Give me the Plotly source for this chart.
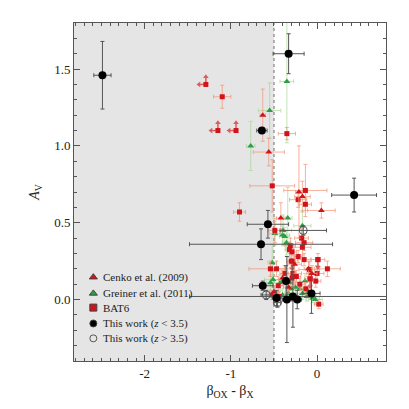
import plotly.graph_objects as go

# Cenko et al. (2009) - red triangles
cenko_x = [-0.63, -0.56, -0.21, -0.17, 0.05, -0.42, -0.40, -0.10, -0.06, -0.26, -0.50, -0.33]
cenko_y = [1.20, 0.96, 0.70, 0.67, 0.58, 0.53, 0.14, 0.20, 0.17, 0.23, 0.05, 0.08]
cenko_xerr = [0.03, 0.18, 0.04, 0.09, 0.16, 0.05, 0.05, 0.05, 0.06, 0.08, 0.05, 0.06]
cenko_yerr = [0.17, 0.09, 0.30, 0.10, 0.05, 0.10, 0.05, 0.05, 0.05, 0.06, 0.04, 0.04]

# Greiner et al. (2011) - green triangles
greiner_x = [-0.77, -0.55, -0.35, -0.34, -0.17, -0.49, -0.395, -0.40, -0.375, -0.355,
             -0.52, -0.51, -0.43, -0.31, -0.54, -0.30, -0.25, -0.20, -0.17, -0.12,
             -0.05, -0.02, -0.48, -0.40, -0.33, -0.10, -0.14]
greiner_y = [1.00, 1.23, 1.42, 0.53, 0.48, 0.43, 0.45, 0.42, 0.41, 0.37,
             0.24, 0.13, 0.11, 0.11, 0.11, 0.07, 0.08, 0.07, 0.04, 0.02,
             0.01, 0.00, 0.04, 0.03, 0.04, 0.05, 0.12]
greiner_xerr = [0.05, 0.13, 0.08, 0.05, 0.10, 0.06, 0.10, 0.08, 0.06, 0.05,
                0.05, 0.10, 0.12, 0.06, 0.05, 0.05, 0.05, 0.06, 0.06, 0.05,
                0.08, 0.08, 0.05, 0.05, 0.05, 0.05, 0.05]
greiner_yerr = [0.16, 0.18, 0.40, 0.20, 0.10, 0.08, 0.10, 0.06, 0.06, 0.08,
                0.12, 0.05, 0.05, 0.05, 0.05, 0.04, 0.04, 0.04, 0.04, 0.03,
                0.03, 0.03, 0.04, 0.04, 0.03, 0.03, 0.05]

# BAT6 - red squares
bat6_x = [-1.10, -0.35, -0.52, -0.135, -0.22, -0.135, -0.90, -0.49, -0.18, -0.15,
          -0.31, -0.17, -0.32, -0.29, -0.22, -0.15, 0.01, -0.54, 0.12, -0.47,
          -0.38, -0.28, -0.09, 0.00, -0.29, -0.24, -0.08, -0.015, -0.45, -0.20,
          -0.52, -0.44, -0.13, -0.30, 0.02]
bat6_y = [1.32, 1.08, 0.74, 0.71, 0.65, 0.62, 0.57, 0.45, 0.40, 0.37,
          0.35, 0.34, 0.325, 0.31, 0.28, 0.26, 0.26, 0.20, 0.20, 0.20,
          0.17, 0.17, 0.195, 0.17, 0.14, 0.15, 0.135, 0.12, 0.09, 0.10,
          0.03, 0.02, 0.07, 0.25, -0.03]
bat6_xerr = [0.10, 0.10, 0.26, 0.25, 0.10, 0.07, 0.07, 0.08, 0.08, 0.10,
             0.06, 0.10, 0.05, 0.05, 0.05, 0.08, 0.08, 0.25, 0.15, 0.10,
             0.05, 0.10, 0.12, 0.08, 0.05, 0.05, 0.06, 0.06, 0.06, 0.06,
             0.05, 0.06, 0.06, 0.05, 0.05]
bat6_yerr = [0.075, 0.04, 0.17, 0.17, 0.05, 0.04, 0.06, 0.08, 0.06, 0.05,
             0.05, 0.05, 0.05, 0.05, 0.04, 0.04, 0.04, 0.05, 0.05, 0.05,
             0.05, 0.05, 0.05, 0.05, 0.04, 0.04, 0.04, 0.04, 0.04, 0.04,
             0.03, 0.03, 0.04, 0.04, 0.03]

# BAT6 limits (arrows left and up)
lim_x = [-1.29, -1.15, -0.94]
lim_y = [1.40, 1.10, 1.10]
# BAT6 upper limits (arrow down)
ul_x = [0.01, -0.08, -0.29]
ul_y = [0.26, 0.135, 0.25]

# This work z < 3.5
low_x = [-2.49, -0.33, -0.64, 0.43, -0.57, -0.65, -0.63, -0.36, -0.47, -0.35, -0.28, -0.23, -0.065]
low_y = [1.46, 1.60, 1.10, 0.68, 0.49, 0.36, 0.09, 0.12, 0.01, 0.00, 0.02, 0.00, 0.04]
low_xerr = [0.10, 0.18, 0.06, 0.26, 0.24, 0.83, 0.12, 0.05, 0.05, 0.05, 1.20, 0.05, 0.10]
low_yerr = [0.22, 0.13, 0.00, 0.11, 0.09, 0.10, 0.03, 0.10, 0.05, 0.28, 0.20, 0.06, 0.13]

# This work z > 3.5
high_x = [-0.16, -0.59, -0.46]
high_y = [0.45, 0.03, -0.02]
high_xerr = [0.27, 0.06, 0.04]
high_yerr = [0.03, 0.03, 0.03]

RED = '#d0141c'
RED_ERR = 'rgba(243,150,120,0.75)'
GREEN = '#2c9e48'
GREEN_ERR = 'rgba(170,215,150,0.7)'
BLACK_ERR = '#555555'
FONT = '"Liberation Serif", "Times New Roman", "DejaVu Serif", serif'

fig = go.Figure()

# grey region + dotted boundary
fig.add_shape(type='rect', xref='x', yref='paper', x0=-3, x1=-0.5, y0=0, y1=1,
              fillcolor='#e5e5e5', line_width=0, layer='below')
fig.add_shape(type='line', xref='x', yref='paper', x0=-0.5, x1=-0.5, y0=0, y1=1,
              line=dict(color='#9a9a9a', width=1.5, dash='dot'), layer='below')


def err(arr, color):
    return dict(type='data', array=arr, color=color, thickness=1, width=2)


fig.add_trace(go.Scatter(
    x=greiner_x, y=greiner_y, mode='markers',
    error_x=err(greiner_xerr, GREEN_ERR), error_y=err(greiner_yerr, GREEN_ERR),
    marker=dict(symbol='triangle-up', size=6, color=GREEN)))

fig.add_trace(go.Scatter(
    x=bat6_x, y=bat6_y, mode='markers',
    error_x=err(bat6_xerr, RED_ERR), error_y=err(bat6_yerr, RED_ERR),
    marker=dict(symbol='square', size=5, color=RED)))

fig.add_trace(go.Scatter(
    x=cenko_x, y=cenko_y, mode='markers',
    error_x=err(cenko_xerr, RED_ERR), error_y=err(cenko_yerr, RED_ERR),
    marker=dict(symbol='triangle-up', size=6, color=RED)))

# limit arrows
fig.add_trace(go.Scatter(
    x=lim_x, y=lim_y, mode='markers',
    error_x=dict(type='data', symmetric=False, array=[0] * 3, arrayminus=[0.08] * 3,
                 color='#e05a5a', thickness=1.5, width=0),
    error_y=dict(type='data', symmetric=False, array=[0.05] * 3, arrayminus=[0] * 3,
                 color='#e05a5a', thickness=1.5, width=0),
    marker=dict(symbol='square', size=5, color=RED)))
fig.add_trace(go.Scatter(
    x=[v - 0.08 for v in lim_x], y=lim_y, mode='markers',
    marker=dict(symbol='triangle-left', size=5, color='#e05a5a')))
fig.add_trace(go.Scatter(
    x=lim_x, y=[v + 0.05 for v in lim_y], mode='markers',
    marker=dict(symbol='triangle-up', size=5, color='#e05a5a')))
fig.add_trace(go.Scatter(
    x=ul_x, y=ul_y, mode='markers',
    error_y=dict(type='data', symmetric=False, array=[0] * 3, arrayminus=[0.05] * 3,
                 color='#e05a5a', thickness=1.5, width=0),
    marker=dict(symbol='square', size=5, color=RED)))
fig.add_trace(go.Scatter(
    x=ul_x, y=[v - 0.05 for v in ul_y], mode='markers',
    marker=dict(symbol='triangle-down', size=5, color='#e05a5a')))

fig.add_trace(go.Scatter(
    x=high_x, y=high_y, mode='markers',
    error_x=err(high_xerr, BLACK_ERR), error_y=err(high_yerr, BLACK_ERR),
    marker=dict(symbol='circle-open', size=8, color='#555555', line=dict(width=1))))

fig.add_trace(go.Scatter(
    x=low_x, y=low_y, mode='markers',
    error_x=err(low_xerr, BLACK_ERR), error_y=err(low_yerr, BLACK_ERR),
    marker=dict(symbol='circle', size=8, color='black')))

# hand-drawn legend on a hidden [0,1] overlay axis
leg_labels = ['Cenko et al. (2009)', 'Greiner et al. (2011)', 'BAT6',
              'This work (<i>z</i> < 3.5)', 'This work (<i>z</i> > 3.5)']
leg_y = [0.248, 0.200, 0.158, 0.111, 0.067]
leg_symbols = ['triangle-up', 'triangle-up', 'square', 'circle', 'circle-open']
leg_colors = [RED, GREEN, RED, 'black', '#555555']
leg_sizes = [7, 7, 7, 7, 7]
for s, c, sz, yy in zip(leg_symbols, leg_colors, leg_sizes, leg_y):
    fig.add_trace(go.Scatter(x=[0.062], y=[yy], xaxis='x2', yaxis='y2', mode='markers',
                             marker=dict(symbol=s, size=sz, color=c, line=dict(width=1))))
for t, yy in zip(leg_labels, leg_y):
    fig.add_annotation(x=0.087, y=yy, xref='paper', yref='paper', text=t,
                       showarrow=False, xanchor='left', yanchor='middle',
                       font=dict(family=FONT, size=11, color='#222'))

axis_common = dict(showline=True, mirror='allticks', linecolor='#555', linewidth=1,
                   ticks='inside', ticklen=6, tickcolor='#555', showgrid=False, zeroline=False,
                   tickfont=dict(family=FONT, size=13, color='#222'))

# page body has an 8px margin, so the figure is 401px and offset accordingly
fig.update_layout(
    width=401, height=401,
    showlegend=False,
    paper_bgcolor='white', plot_bgcolor='white',
    margin=dict(l=66, r=23, t=15, b=48),
    font=dict(family=FONT, color='#222'),
    xaxis=dict(range=[-2.82, 0.80], tickvals=[-2, -1, 0], ticktext=['-2', '-1', '0'],
               minor=dict(dtick=0.1, ticks='inside', ticklen=3, tickcolor='#555'),
               title=dict(text='β<sub>OX</sub> - β<sub>X</sub>', font=dict(family=FONT, size=14),
                          standoff=5),
               **axis_common),
    yaxis=dict(range=[-0.40, 1.80], tickvals=[0, 0.5, 1.0, 1.5],
               ticktext=['0.0', '0.5', '1.0', '1.5'],
               minor=dict(dtick=0.1, ticks='inside', ticklen=3, tickcolor='#555'),
               title=dict(text='<i>A</i><sub>V</sub>', font=dict(family=FONT, size=14),
                          standoff=11),
               **axis_common),
    xaxis2=dict(range=[0, 1], overlaying='x', visible=False),
    yaxis2=dict(range=[0, 1], overlaying='y', visible=False),
)

fig.write_html("out.html")
